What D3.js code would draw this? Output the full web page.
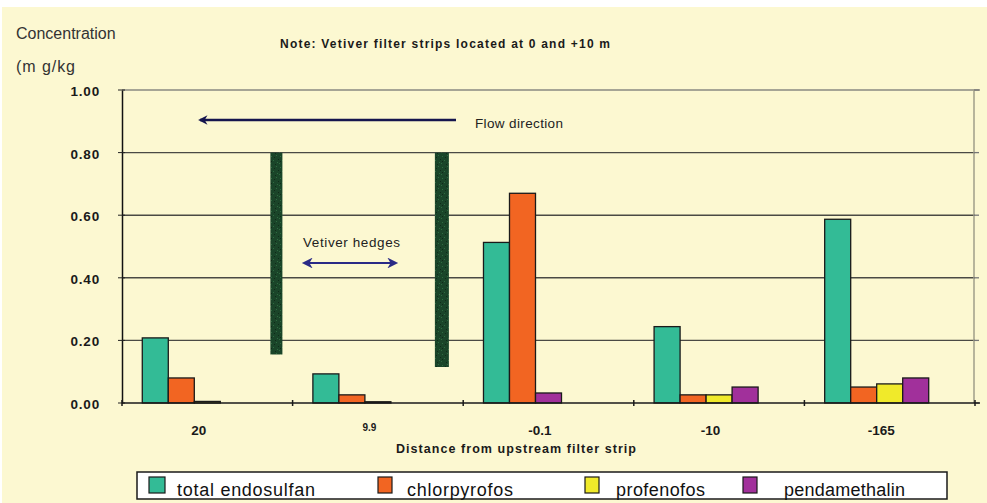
<!DOCTYPE html>
<html><head><meta charset="utf-8">
<script src="https://cdn.jsdelivr.net/npm/d3@7"></script>
<style>
html,body{margin:0;padding:0;background:#fff;}
svg{display:block;}
text{font-family:"Liberation Sans",Arial,sans-serif;}
</style></head>
<body>
<svg id="chart" width="987" height="503"></svg>
<script>
// ---- data ----
const categories = ["20", "9.9", "-0.1", "-10", "-165"];
const seriesNames = ["total endosulfan", "chlorpyrofos", "profenofos", "pendamethalin"];
const endosulfan    = [0.208, 0.093, 0.513, 0.244, 0.587];
const chlorpyrofos  = [0.080, 0.026, 0.670, 0.026, 0.051];
const profenofos    = [0.005, 0.004, null,  0.026, 0.061];
const pendamethalin = [null,  null,  0.032, 0.051, 0.080];
const yTicks = [0, 0.2, 0.4, 0.6, 0.8, 1.0];
const seriesColors = ["#33bb96", "#f26522", "#f0ea2a", "#a1309b"];

const seriesValues = [endosulfan, chlorpyrofos, profenofos, pendamethalin];

const svg = d3.select("#chart");
const W = 987, H = 503;

// background
svg.append("rect").attr("width", W).attr("height", H).attr("fill", "#ffffff");
svg.append("rect").attr("x", 2).attr("y", 7).attr("width", W - 2).attr("height", H - 7).attr("fill", "#fcf8d1");

const x0 = d3.scaleBand().domain(categories).range([122, 975]).padding(0);
const x1 = d3.scaleBand().domain([0, 1, 2, 3, 4]).range([0, x0.bandwidth()]).paddingInner(0).paddingOuter(0.78);
const y = d3.scaleLinear().domain([0, 1]).range([403, 90]);

// grid lines
svg.append("g").selectAll("line").data(yTicks.filter(t => t > 0 && t < 1)).join("line")
  .attr("x1", 122).attr("x2", 975).attr("y1", d => y(d)).attr("y2", d => y(d))
  .attr("stroke", "#4a4a44").attr("stroke-width", 1.4);
// top frame & right frame
svg.append("line").attr("x1", 122).attr("x2", 980).attr("y1", y(1)).attr("y2", y(1))
  .attr("stroke", "#8a8a80").attr("stroke-width", 1.3);
svg.append("line").attr("x1", 974).attr("x2", 974).attr("y1", y(1)).attr("y2", y(0))
  .attr("stroke", "#a09f88").attr("stroke-width", 1.5);
// right side tick marks
svg.append("g").selectAll("line").data(yTicks).join("line")
  .attr("x1", 974).attr("x2", 979).attr("y1", d => y(d)).attr("y2", d => y(d))
  .attr("stroke", "#777").attr("stroke-width", 1.3);

// y axis
const yAxis = d3.axisLeft(y).tickValues(yTicks).tickSize(0).tickPadding(0).tickFormat(d3.format(".2f"));
const gy = svg.append("g").attr("transform", "translate(122,0)").call(yAxis);
gy.select(".domain").attr("stroke", "#111").attr("stroke-width", 1.5);
gy.selectAll("text").attr("x", -22).attr("dy", "0.4em")
  .attr("font-size", 13.5).attr("font-weight", "bold").attr("fill", "#1a1a1a")
  .style("letter-spacing", "0.8px");
// small inner ticks on y axis
svg.append("g").selectAll("line").data(yTicks).join("line")
  .attr("x1", 118).attr("x2", 125).attr("y1", d => y(d)).attr("y2", d => y(d))
  .attr("stroke", "#222").attr("stroke-width", 1);

// bars: non-empty values laid out consecutively inside each group
const barData = [];
categories.forEach((c, ci) => {
  let slot = 0;
  seriesValues.forEach((vals, si) => {
    const v = vals[ci];
    if (v !== null && v !== undefined) {
      barData.push({cat: c, series: si, slot: slot, value: v});
      slot++;
    }
  });
});

svg.append("g").selectAll("rect").data(barData).join("rect")
  .attr("x", d => x0(d.cat) + x1(d.slot))
  .attr("width", x1.bandwidth())
  .attr("y", d => y(d.value))
  .attr("height", d => y(0) - y(d.value))
  .attr("fill", d => seriesColors[d.series])
  .attr("stroke", "#1a1a1a").attr("stroke-width", 1.3);

// x axis
svg.append("line").attr("x1", 122).attr("x2", 980).attr("y1", y(0)).attr("y2", y(0))
  .attr("stroke", "#1a1a1a").attr("stroke-width", 1.6);
const boundaries = categories.map(c => x0(c)).concat([x0.range()[1]]);
svg.append("g").selectAll("line").data(boundaries).join("line")
  .attr("x1", d => d).attr("x2", d => d).attr("y1", y(0) - 3).attr("y2", y(0) + 3)
  .attr("stroke", "#1a1a1a").attr("stroke-width", 1.5);

// x labels
svg.append("g").selectAll("text").data(categories).join("text")
  .attr("x", d => x0(d) + x0.bandwidth() * 0.45)
  .attr("y", d => d === "9.9" ? 431 : 435)
  .attr("text-anchor", "middle")
  .attr("font-size", d => d === "9.9" ? 10 : 13.5)
  .attr("font-weight", "bold").attr("fill", "#1a1a1a")
  .text(d => d);

svg.append("text").attr("x", 516).attr("y", 453).attr("text-anchor", "middle")
  .attr("font-size", 12.5).attr("font-weight", "bold").attr("fill", "#1a1a1a")
  .attr("textLength", 240).attr("lengthAdjust", "spacing")
  .text("Distance from upstream filter strip");

// titles
svg.append("text").attr("x", 16).attr("y", 39).attr("font-size", 16).attr("fill", "#333")
  .text("Concentration");
svg.append("text").attr("x", 16).attr("y", 72).attr("font-size", 16).attr("fill", "#333")
  .attr("textLength", 59).attr("lengthAdjust", "spacing")
  .text("(m g/kg");
svg.append("text").attr("x", 280).attr("y", 48).attr("font-size", 12).attr("font-weight", "bold").attr("fill", "#1a1a1a")
  .attr("textLength", 330).attr("lengthAdjust", "spacing")
  .text("Note: Vetiver filter strips located at 0 and +10 m");

// hedges (vetiver strips) - annotation shapes
const defs = svg.append("defs");
const pat = defs.append("pattern").attr("id", "hedge").attr("patternUnits", "userSpaceOnUse")
  .attr("width", 9).attr("height", 11);
pat.append("rect").attr("width", 9).attr("height", 11).attr("fill", "#1a4529");
[[1,2],[6,1],[3,6],[7,8],[0,9]].forEach(([a,b]) =>
  pat.append("rect").attr("x", a).attr("y", b).attr("width", 1).attr("height", 1).attr("fill", "#2f6b40"));
[[4,3],[1,7],[8,5],[5,10]].forEach(([a,b]) =>
  pat.append("rect").attr("x", a).attr("y", b).attr("width", 1).attr("height", 1).attr("fill", "#0f2a18"));

const hedges = [
  {cat: "20",  frac: 0.905, top: 0.80, bottom: 0.155, w: 12},
  {cat: "9.9", frac: 0.875, top: 0.80, bottom: 0.115, w: 14}
];
svg.append("g").selectAll("rect").data(hedges).join("rect")
  .attr("x", d => x0(d.cat) + x0.bandwidth() * d.frac - d.w / 2)
  .attr("width", d => d.w)
  .attr("y", d => y(d.top))
  .attr("height", d => y(d.bottom) - y(d.top))
  .attr("fill", "url(#hedge)");

// arrow markers (point along the path direction at the end)
defs.append("marker").attr("id", "ahFlow").attr("viewBox", "0 0 10 10").attr("refX", 8).attr("refY", 5)
  .attr("markerWidth", 5.5).attr("markerHeight", 3.6).attr("orient", "auto-start-reverse")
  .append("path").attr("d", "M0,0 L10,5 L0,10 L3,5 Z").attr("fill", "#15154d");
defs.append("marker").attr("id", "ahHedge").attr("viewBox", "0 0 10 10").attr("refX", 8).attr("refY", 5)
  .attr("markerWidth", 7).attr("markerHeight", 6).attr("orient", "auto-start-reverse")
  .append("path").attr("d", "M0,0 L10,5 L0,10 L3,5 Z").attr("fill", "#2a2a86");

// flow direction
svg.append("line").attr("x1", 456).attr("x2", 200).attr("y1", 120).attr("y2", 120)
  .attr("stroke", "#15154d").attr("stroke-width", 2.6).attr("marker-end", "url(#ahFlow)");
svg.append("text").attr("x", 475).attr("y", 128).attr("font-size", 13.5).attr("fill", "#222")
  .attr("textLength", 88).attr("lengthAdjust", "spacing").text("Flow direction");

// vetiver hedges label
svg.append("text").attr("x", 303).attr("y", 247).attr("font-size", 13.5).attr("fill", "#222")
  .attr("textLength", 97).attr("lengthAdjust", "spacing").text("Vetiver hedges");
svg.append("line").attr("x1", 304).attr("x2", 396).attr("y1", 263).attr("y2", 263)
  .attr("stroke", "#2a2a86").attr("stroke-width", 1.8)
  .attr("marker-start", "url(#ahHedge)").attr("marker-end", "url(#ahHedge)");

// legend
svg.append("rect").attr("x", 137).attr("y", 472).attr("width", 810).attr("height", 27)
  .attr("fill", "#ffffff").attr("stroke", "#1a1a1a").attr("stroke-width", 1.5);
const legendX = [149, 378, 585, 743];
const legendTextX = [177, 407, 616, 784];
const legendTextW = [138, 106, 89, 121];
const lg = svg.append("g").selectAll("g").data(seriesNames).join("g");
lg.append("rect").attr("x", (d, i) => legendX[i]).attr("y", 477).attr("width", (d, i) => i === 0 ? 16 : 14).attr("height", 16)
  .attr("fill", (d, i) => seriesColors[i]).attr("stroke", "#1a1a1a").attr("stroke-width", 1.2);
lg.append("text").attr("x", (d, i) => legendTextX[i]).attr("y", 496)
  .attr("font-size", 18).attr("fill", "#111")
  .attr("textLength", (d, i) => legendTextW[i]).attr("lengthAdjust", "spacing")
  .text(d => d);
</script>
</body></html>
